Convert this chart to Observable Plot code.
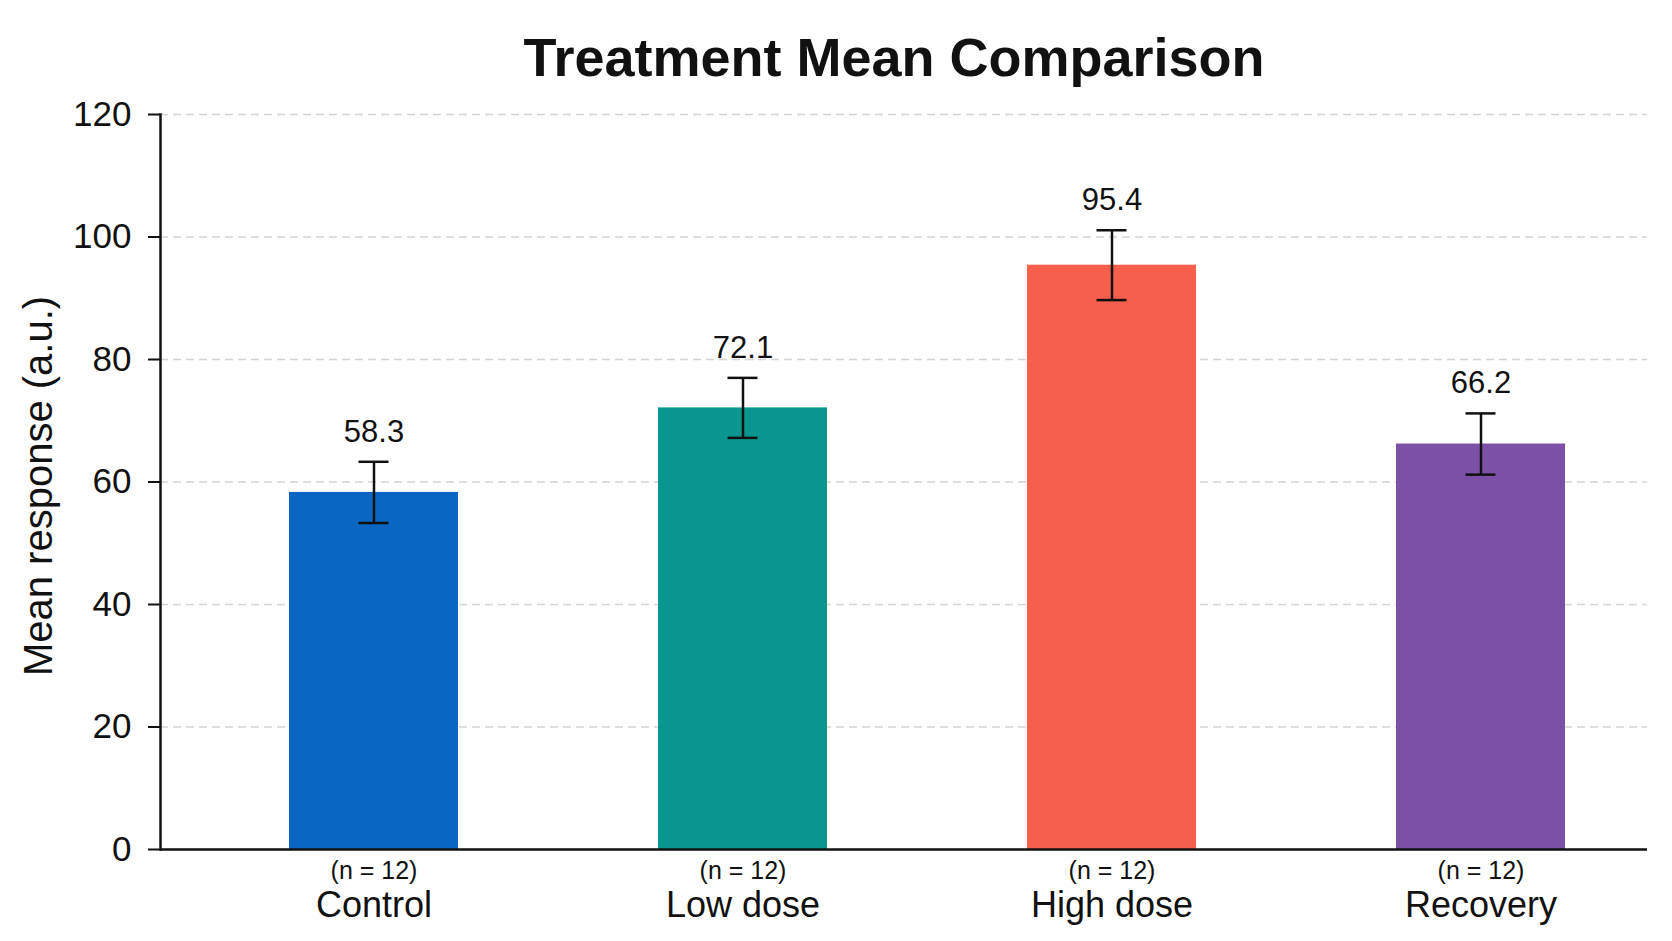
<!DOCTYPE html>
<html><head><meta charset="utf-8">
<script src="https://cdn.jsdelivr.net/npm/d3@7"></script>
<script src="https://cdn.jsdelivr.net/npm/@observablehq/plot@0.6"></script>
<style>html,body{margin:0;padding:0;background:#fff;overflow:hidden}</style>
</head><body><div id="chart"></div>
<script>
const categories = ["Control", "Low dose", "High dose", "Recovery"];
const means = [58.3, 72.1, 95.4, 66.2];
const errors = [5.0, 4.9, 5.7, 5.0];
const counts = [12, 12, 12, 12];
const colors = ["#0b65c2", "#0a968e", "#f65f4b", "#7d50a8"];
const yTicks = [0, 20, 40, 60, 80, 100, 120];
const title = "Treatment Mean Comparison";
const yLabel = "Mean response (a.u.)";

const rows = categories.map((c, i) => ({
  category: c, mean: means[i], err: errors[i], n: counts[i],
  lo: means[i] - errors[i], hi: means[i] + errors[i]
}));

const W = 1672, H = 941, mL = 160, mR = 25, mT = 114, mB = 92;
const ink = "#111";

const chart = Plot.plot({
  width: W, height: H,
  marginLeft: mL, marginRight: mR, marginTop: mT, marginBottom: mB,
  style: {fontFamily: "Liberation Sans, Arial, sans-serif", color: ink, background: "#fff"},
  x: {domain: categories, range: [207.5, W - mR], paddingInner: 0.5426, paddingOuter: 0.219, axis: null},
  y: {domain: [0, 120]},
  color: {domain: categories, range: colors},
  marks: [
    Plot.ruleY(yTicks.filter(d => d > 0), {stroke: "#d4d4d4", strokeWidth: 1.5, strokeDasharray: "8,5"}),
    Plot.barY(rows, {x: "category", y: "mean", fill: "category"}),
    Plot.ruleX(rows, {x: "category", y1: "lo", y2: "hi", stroke: ink, strokeWidth: 2.5}),
    Plot.tickY(rows, {x: "category", y: "hi", stroke: ink, strokeWidth: 2.5, insetLeft: 69.5, insetRight: 69.5}),
    Plot.tickY(rows, {x: "category", y: "lo", stroke: ink, strokeWidth: 2.5, insetLeft: 69.5, insetRight: 69.5}),
    Plot.text(rows, {x: "category", y: "hi", text: d => d.mean.toFixed(1), dy: -20, lineAnchor: "bottom", fontSize: 31, fill: ink}),
    Plot.ruleY([0], {stroke: ink, strokeWidth: 2.5}),
    Plot.frame({anchor: "left", stroke: ink, strokeWidth: 2.5}),
    Plot.axisY({ticks: yTicks, tickSize: 12, tickPadding: 17, fontSize: 35, strokeWidth: 2, tickFormat: d => String(d), label: null}),
    Plot.text(rows, {x: "category", frameAnchor: "bottom", text: d => `(n = ${d.n})`, dy: 29, lineAnchor: "bottom", fontSize: 25, fill: ink}),
    Plot.text(rows, {x: "category", frameAnchor: "bottom", text: "category", dy: 67, lineAnchor: "bottom", fontSize: 36, fill: ink}),
    Plot.text([yLabel], {text: d => d, frameAnchor: "left", dx: -121, dy: 4, rotate: -90, fontSize: 40, textAnchor: "middle", lineAnchor: "middle", fill: ink}),
    Plot.text([title], {text: d => d, frameAnchor: "top", dx: -10, dy: -39, lineAnchor: "bottom", fontSize: 54, fontWeight: "bold", fill: ink})
  ]
});
document.getElementById("chart").appendChild(chart);
</script>
</body></html>
